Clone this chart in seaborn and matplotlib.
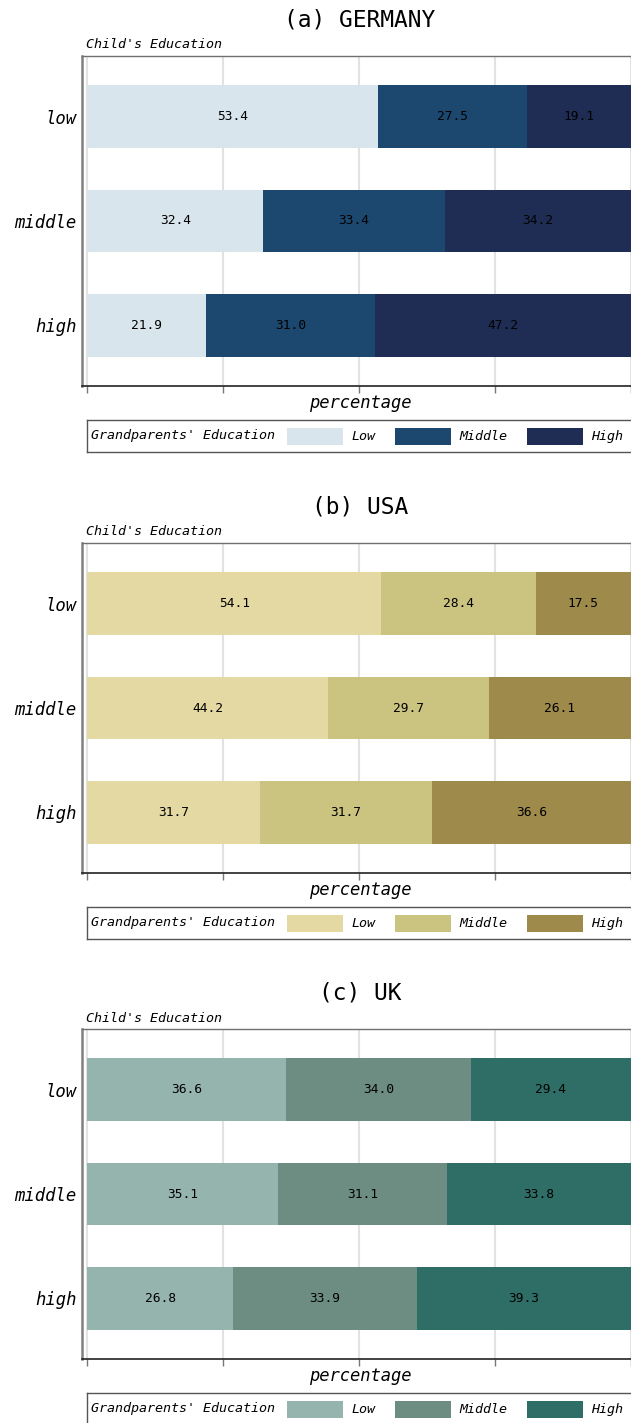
import numpy as np
import pandas as pd
import matplotlib
matplotlib.use("Agg")
import matplotlib.pyplot as plt
import seaborn as sns
from matplotlib.patches import Rectangle

# ---------------- data ----------------
titles = ["(a) GERMANY", "(b) USA", "(c) UK"]
child_levels = ["low", "middle", "high"]
grand_levels = ["Low", "Middle", "High"]

germany_low = [53.4, 32.4, 21.9]
germany_middle = [27.5, 33.4, 31.0]
germany_high = [19.1, 34.2, 47.2]

usa_low = [54.1, 44.2, 31.7]
usa_middle = [28.4, 29.7, 31.7]
usa_high = [17.5, 26.1, 36.6]

uk_low = [36.6, 35.1, 26.8]
uk_middle = [34.0, 31.1, 33.9]
uk_high = [29.4, 33.8, 39.3]

germany_colors = ["#d9e5ec", "#1c4870", "#1f2d55"]
usa_colors = ["#e4d9a3", "#cbc380", "#9e8a4a"]
uk_colors = ["#96b4ae", "#6d8d82", "#2e6e66"]

x_ticks = [0, 25, 50, 75, 100]

panels = [
    (titles[0], [germany_low, germany_middle, germany_high], germany_colors),
    (titles[1], [usa_low, usa_middle, usa_high], usa_colors),
    (titles[2], [uk_low, uk_middle, uk_high], uk_colors),
]

# ---------------- style ----------------
sns.set_style("white")
plt.rcParams["font.family"] = ["DejaVu Sans Mono", "DejaVu Sans"]
plt.rcParams["text.color"] = "black"
plt.rcParams["ytick.labelcolor"] = "black"

W, H = 631, 1423
fig = plt.figure(figsize=(W / 100, H / 100), dpi=100)


def fx(px):
    return px / W


def fy(py):
    return 1 - py / H


panel_offsets = [0, 487, 973]

for (title, series, colors), off in zip(panels, panel_offsets):
    top, bottom = 56 + off, 386 + off
    ax = fig.add_axes([fx(82), fy(bottom), (635 - 82) / W, (bottom - top) / H])

    df = pd.DataFrame({"child": child_levels,
                       "low": series[0], "middle": series[1], "high": series[2]})
    df["c1"] = df["low"]
    df["c2"] = df["low"] + df["middle"]
    df["c3"] = df["low"] + df["middle"] + df["high"]

    # stacked bars drawn back to front
    for col, c in zip(["c3", "c2", "c1"], colors[::-1]):
        sns.barplot(data=df, x=col, y="child", orient="h", color=c,
                    saturation=1, width=0.6, linewidth=0,
                    ax=ax, zorder=2)

    # segment labels
    for i, row in df.iterrows():
        starts = [0, row["c1"], row["c2"]]
        vals = [row["low"], row["middle"], row["high"]]
        for s, v in zip(starts, vals):
            ax.text(s + v / 2, i, f"{v:.1f}", ha="center", va="center",
                    fontsize=9.3, color="black", zorder=3)

    ax.set_xlim(-1.0, 100.8)
    ax.set_ylim(2.58, -0.58)
    ax.set_xticks(x_ticks)
    ax.set_xticklabels([])
    ax.set_xlabel("")
    ax.set_ylabel("")
    ax.grid(axis="x", color="#e2e2e2", linewidth=1.5, zorder=0)
    ax.grid(axis="y", visible=False)
    ax.set_axisbelow(True)
    ax.tick_params(axis="x", direction="out", length=5, width=1,
                   color="#777777", bottom=True)
    ax.tick_params(axis="y", length=0, pad=4, labelsize=12.4)
    for lab in ax.get_yticklabels():
        lab.set_fontstyle("italic")
        lab.set_color("black")
    ax.spines["left"].set_color("#808080")
    ax.spines["left"].set_linewidth(1.8)
    ax.spines["top"].set_color("#707070")
    ax.spines["top"].set_linewidth(1.0)
    ax.spines["bottom"].set_color("#222222")
    ax.spines["bottom"].set_linewidth(1.2)
    ax.spines["right"].set_visible(False)

    # texts
    fig.text(fx(360), fy(20 + off), title, ha="center", va="center",
             fontsize=16.5, color="black")
    fig.text(fx(86), fy(45 + off), "Child's Education", ha="left", va="center",
             fontsize=9.6, style="italic", color="black")
    fig.text(fx(360), fy(403 + off), "percentage", ha="center", va="center",
             fontsize=12.3, style="italic", color="black")

    # legend box
    ltop, lbot = 420 + off, 452 + off
    lax = fig.add_axes([fx(87), fy(lbot), (640 - 87) / W, (lbot - ltop) / H])
    lax.set_xlim(0, 553)
    lax.set_ylim(32, 0)
    lax.set_xticks([])
    lax.set_yticks([])
    for sp in lax.spines.values():
        sp.set_color("#555555")
        sp.set_linewidth(1.0)
    lax.text(4, 15.5, "Grandparents' Education", ha="left", va="center",
             fontsize=9.6, style="italic", color="black")
    patch_x = [200, 308, 440]
    for px, lbl, c in zip(patch_x, grand_levels, colors):
        lax.add_patch(Rectangle((px, 8), 56, 17, facecolor=c, edgecolor="none"))
        lax.text(px + 64, 16.5, lbl, ha="left", va="center", fontsize=9.6,
                 style="italic", color="black")

fig.savefig("out.png", dpi=100)
